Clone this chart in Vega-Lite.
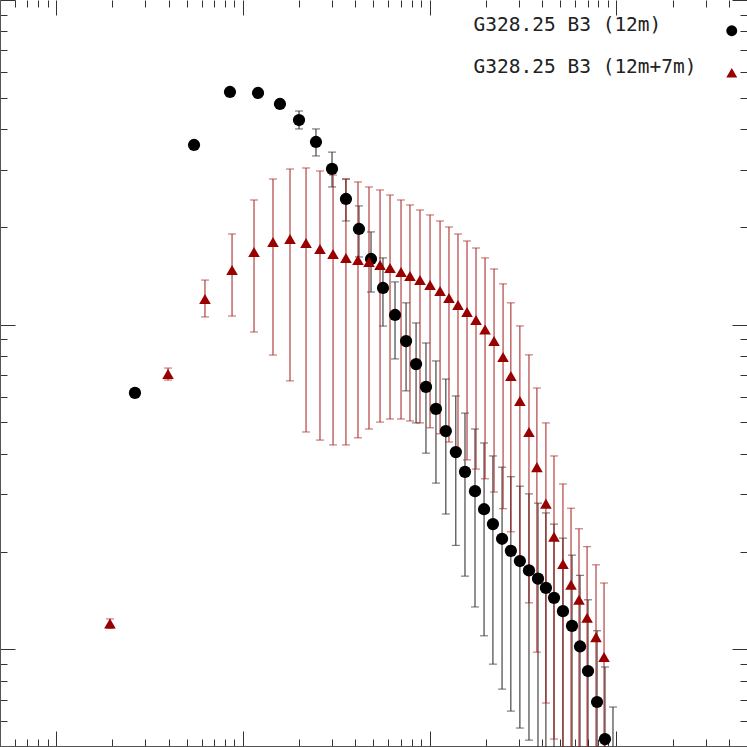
{
  "$schema": "https://vega.github.io/schema/vega-lite/v6.json",
  "width": 747,
  "height": 747,
  "padding": 0,
  "autosize": "none",
  "background": "white",
  "config": {
    "view": {"stroke": null},
    "axis": {"labels": false, "title": null, "grid": false, "tickColor": "#333", "domainColor": "#555", "tickWidth": 1}
  },
  "data": {"values": [
    {"s": "G328.25 B3 (12m)", "x": 2.64, "y": 6.16, "lo": 6.1, "hi": 6.22},
    {"s": "G328.25 B3 (12m)", "x": 5.47, "y": 35.76, "lo": 35.4, "hi": 36.1},
    {"s": "G328.25 B3 (12m)", "x": 8.52, "y": 52.08, "lo": 51.6, "hi": 52.6},
    {"s": "G328.25 B3 (12m)", "x": 12.04, "y": 51.71, "lo": 51.2, "hi": 52.2},
    {"s": "G328.25 B3 (12m)", "x": 15.78, "y": 47.83, "lo": 46.5, "hi": 49.2},
    {"s": "G328.25 B3 (12m)", "x": 19.96, "y": 42.69, "lo": 40.07, "hi": 45.5},
    {"s": "G328.25 B3 (12m)", "x": 24.6, "y": 36.53, "lo": 33.08, "hi": 40.07},
    {"s": "G328.25 B3 (12m)", "x": 29.98, "y": 30.17, "lo": 26.55, "hi": 34.0},
    {"s": "G328.25 B3 (12m)", "x": 35.6, "y": 24.38, "lo": 20.86, "hi": 28.09},
    {"s": "G328.25 B3 (12m)", "x": 41.8, "y": 19.71, "lo": 16.16, "hi": 23.21},
    {"s": "G328.25 B3 (12m)", "x": 48.5, "y": 15.93, "lo": 12.6, "hi": 19.3},
    {"s": "G328.25 B3 (12m)", "x": 56.2, "y": 12.97, "lo": 9.9, "hi": 16.05},
    {"s": "G328.25 B3 (12m)", "x": 65.2, "y": 10.71, "lo": 7.84, "hi": 13.54},
    {"s": "G328.25 B3 (12m)", "x": 74.7, "y": 8.9, "lo": 6.25, "hi": 11.67},
    {"s": "G328.25 B3 (12m)", "x": 84.5, "y": 7.56, "lo": 4.98, "hi": 10.12},
    {"s": "G328.25 B3 (12m)", "x": 95.5, "y": 6.43, "lo": 4.02, "hi": 8.78},
    {"s": "G328.25 B3 (12m)", "x": 108, "y": 5.5, "lo": 3.25, "hi": 7.73},
    {"s": "G328.25 B3 (12m)", "x": 122, "y": 4.7, "lo": 2.61, "hi": 6.8},
    {"s": "G328.25 B3 (12m)", "x": 138, "y": 4.05, "lo": 2.09, "hi": 6.03},
    {"s": "G328.25 B3 (12m)", "x": 154.5, "y": 3.52, "lo": 1.68, "hi": 5.34},
    {"s": "G328.25 B3 (12m)", "x": 174.8, "y": 3.07, "lo": 1.35, "hi": 4.77},
    {"s": "G328.25 B3 (12m)", "x": 195.4, "y": 2.7, "lo": 1.1, "hi": 4.32},
    {"s": "G328.25 B3 (12m)", "x": 218, "y": 2.43, "lo": 0.9, "hi": 3.94},
    {"s": "G328.25 B3 (12m)", "x": 244, "y": 2.19, "lo": 0.754, "hi": 3.64},
    {"s": "G328.25 B3 (12m)", "x": 272, "y": 2.01, "lo": 0.645, "hi": 3.4},
    {"s": "G328.25 B3 (12m)", "x": 304, "y": 1.87, "lo": 0.572, "hi": 3.18},
    {"s": "G328.25 B3 (12m)", "x": 340, "y": 1.75, "lo": 0.525, "hi": 3.01},
    {"s": "G328.25 B3 (12m)", "x": 380, "y": 1.65, "lo": 0.1, "hi": 2.82},
    {"s": "G328.25 B3 (12m)", "x": 419, "y": 1.545, "lo": 0.1, "hi": 2.63},
    {"s": "G328.25 B3 (12m)", "x": 463, "y": 1.44, "lo": 0.1, "hi": 2.43},
    {"s": "G328.25 B3 (12m)", "x": 517, "y": 1.31, "lo": 0.1, "hi": 2.2},
    {"s": "G328.25 B3 (12m)", "x": 578, "y": 1.18, "lo": 0.1, "hi": 1.95},
    {"s": "G328.25 B3 (12m)", "x": 638, "y": 1.02, "lo": 0.1, "hi": 1.69},
    {"s": "G328.25 B3 (12m)", "x": 704, "y": 0.857, "lo": 0.1, "hi": 1.42},
    {"s": "G328.25 B3 (12m)", "x": 787, "y": 0.688, "lo": 0.1, "hi": 1.14},
    {"s": "G328.25 B3 (12m)", "x": 868, "y": 0.529, "lo": 0.1, "hi": 0.882},
    {"s": "G328.25 B3 (12m)", "x": 958, "y": 0.4, "lo": 0.1, "hi": 0.664},
    {"s": "G328.25 B3 (12m+7m)", "x": 1.94, "y": 1.2, "lo": 1.16, "hi": 1.24},
    {"s": "G328.25 B3 (12m+7m)", "x": 3.97, "y": 7.05, "lo": 6.75, "hi": 7.35},
    {"s": "G328.25 B3 (12m+7m)", "x": 6.26, "y": 12.0, "lo": 10.56, "hi": 13.72},
    {"s": "G328.25 B3 (12m+7m)", "x": 8.74, "y": 14.73, "lo": 10.63, "hi": 19.02},
    {"s": "G328.25 B3 (12m+7m)", "x": 11.46, "y": 16.74, "lo": 9.49, "hi": 24.21},
    {"s": "G328.25 B3 (12m+7m)", "x": 14.48, "y": 17.97, "lo": 8.06, "hi": 28.09},
    {"s": "G328.25 B3 (12m+7m)", "x": 17.86, "y": 18.36, "lo": 6.71, "hi": 30.16},
    {"s": "G328.25 B3 (12m+7m)", "x": 21.76, "y": 17.84, "lo": 4.67, "hi": 30.38},
    {"s": "G328.25 B3 (12m+7m)", "x": 25.85, "y": 17.1, "lo": 4.41, "hi": 29.73},
    {"s": "G328.25 B3 (12m+7m)", "x": 30.36, "y": 16.51, "lo": 4.26, "hi": 28.9},
    {"s": "G328.25 B3 (12m+7m)", "x": 35.6, "y": 16.05, "lo": 4.26, "hi": 28.09},
    {"s": "G328.25 B3 (12m+7m)", "x": 41.3, "y": 15.82, "lo": 4.48, "hi": 27.51},
    {"s": "G328.25 B3 (12m+7m)", "x": 47.3, "y": 15.6, "lo": 4.77, "hi": 26.55},
    {"s": "G328.25 B3 (12m+7m)", "x": 54.2, "y": 15.27, "lo": 5.01, "hi": 25.99},
    {"s": "G328.25 B3 (12m+7m)", "x": 61.3, "y": 14.95, "lo": 5.12, "hi": 25.08},
    {"s": "G328.25 B3 (12m+7m)", "x": 70.2, "y": 14.53, "lo": 5.12, "hi": 24.21},
    {"s": "G328.25 B3 (12m+7m)", "x": 78.4, "y": 14.12, "lo": 5.05, "hi": 23.37},
    {"s": "G328.25 B3 (12m+7m)", "x": 88.7, "y": 13.72, "lo": 4.98, "hi": 22.55},
    {"s": "G328.25 B3 (12m+7m)", "x": 100.4, "y": 13.25, "lo": 4.81, "hi": 21.77},
    {"s": "G328.25 B3 (12m+7m)", "x": 113.6, "y": 12.7, "lo": 4.61, "hi": 20.86},
    {"s": "G328.25 B3 (12m+7m)", "x": 126.8, "y": 12.08, "lo": 4.35, "hi": 19.99},
    {"s": "G328.25 B3 (12m+7m)", "x": 141.7, "y": 11.49, "lo": 4.08, "hi": 19.02},
    {"s": "G328.25 B3 (12m+7m)", "x": 158.4, "y": 10.94, "lo": 3.83, "hi": 18.1},
    {"s": "G328.25 B3 (12m+7m)", "x": 177, "y": 10.33, "lo": 3.59, "hi": 17.22},
    {"s": "G328.25 B3 (12m+7m)", "x": 197.8, "y": 9.66, "lo": 3.35, "hi": 16.05},
    {"s": "G328.25 B3 (12m+7m)", "x": 221, "y": 8.9, "lo": 3.05, "hi": 14.84},
    {"s": "G328.25 B3 (12m+7m)", "x": 247, "y": 7.95, "lo": 2.71, "hi": 13.35},
    {"s": "G328.25 B3 (12m+7m)", "x": 272, "y": 6.95, "lo": 2.3, "hi": 11.67},
    {"s": "G328.25 B3 (12m+7m)", "x": 304, "y": 5.82, "lo": 1.86, "hi": 9.91},
    {"s": "G328.25 B3 (12m+7m)", "x": 340, "y": 4.67, "lo": 1.39, "hi": 8.07},
    {"s": "G328.25 B3 (12m+7m)", "x": 375, "y": 3.64, "lo": 0.98, "hi": 6.38},
    {"s": "G328.25 B3 (12m+7m)", "x": 419, "y": 2.81, "lo": 0.683, "hi": 4.98},
    {"s": "G328.25 B3 (12m+7m)", "x": 463, "y": 2.22, "lo": 0.529, "hi": 3.94},
    {"s": "G328.25 B3 (12m+7m)", "x": 517, "y": 1.83, "lo": 0.1, "hi": 3.23},
    {"s": "G328.25 B3 (12m+7m)", "x": 571, "y": 1.58, "lo": 0.1, "hi": 2.72},
    {"s": "G328.25 B3 (12m+7m)", "x": 630, "y": 1.42, "lo": 0.1, "hi": 2.35},
    {"s": "G328.25 B3 (12m+7m)", "x": 696, "y": 1.25, "lo": 0.1, "hi": 2.07},
    {"s": "G328.25 B3 (12m+7m)", "x": 777, "y": 1.09, "lo": 0.1, "hi": 1.82},
    {"s": "G328.25 B3 (12m+7m)", "x": 858, "y": 0.947, "lo": 0.1, "hi": 1.6}
  ]},
  "layer": [
    {
      "transform": [{"filter": "datum.s == 'G328.25 B3 (12m)'"}],
      "mark": {"type": "errorbar", "ticks": {"size": 8}, "color": "#222222", "thickness": 1, "clip": true},
      "encoding": {
        "x": {"field": "x", "type": "quantitative", "scale": {"type": "log", "domain": [0.5, 5000], "nice": false}, "axis": null},
        "y": {"field": "lo", "type": "quantitative", "scale": {"type": "log", "domain": [0.5, 100], "nice": false}, "axis": null},
        "y2": {"field": "hi"}
      }
    },
    {
      "transform": [{"filter": "datum.s == 'G328.25 B3 (12m+7m)'"}],
      "mark": {"type": "errorbar", "ticks": {"size": 8}, "color": "#a51c1c", "thickness": 1, "clip": true},
      "encoding": {
        "x": {"field": "x", "type": "quantitative", "axis": null},
        "y": {"field": "lo", "type": "quantitative", "axis": null},
        "y2": {"field": "hi"}
      }
    },
    {
      "transform": [{"filter": "datum.s == 'G328.25 B3 (12m)'"}],
      "mark": {"type": "point", "filled": true, "size": 150, "opacity": 1, "clip": true},
      "encoding": {
        "x": {"field": "x", "type": "quantitative", "axis": {"orient": "bottom", "offset": -1, "domain": true, "values": [0.5,0.6,0.7,0.8,0.9,1,2,3,4,5,6,7,8,9,10,20,30,40,50,60,70,80,90,100,200,300,400,500,600,700,800,900,1000,2000,3000,4000,5000], "tickSize": {"condition": {"test": "datum.value == 1 || datum.value == 10 || datum.value == 100 || datum.value == 1000", "value": -15}, "value": -7}}},
        "y": {"field": "y", "type": "quantitative", "axis": {"orient": "left", "domain": true, "values": [0.5,0.6,0.7,0.8,0.9,1,2,3,4,5,6,7,8,9,10,20,30,40,50,60,70,80,90,100], "tickSize": {"condition": {"test": "datum.value == 1 || datum.value == 10 || datum.value == 100", "value": -15}, "value": -7}}},
        "color": {"field": "s", "type": "nominal", "scale": {"domain": ["G328.25 B3 (12m)", "G328.25 B3 (12m+7m)"], "range": ["#000000", "#990000"]}, "legend": {"title": null, "orient": "none", "legendX": 722, "legendY": 21, "labelFont": "DejaVu Sans Mono", "labelFontSize": 19.5, "labelColor": "#222222", "labelAlign": "left", "labelOffset": -268, "labelLimit": 400, "labelBaseline": "alphabetic", "symbolSize": 120, "rowPadding": 19}},
        "shape": {"field": "s", "type": "nominal", "scale": {"domain": ["G328.25 B3 (12m)", "G328.25 B3 (12m+7m)"], "range": ["circle", "triangle-up"]}, "legend": {"title": null, "orient": "none", "legendX": 722, "legendY": 21, "labelFont": "DejaVu Sans Mono", "labelFontSize": 19.5, "labelColor": "#222222", "labelAlign": "left", "labelOffset": -268, "labelLimit": 400, "labelBaseline": "alphabetic", "symbolSize": 120, "rowPadding": 19}}
      }
    },
    {
      "transform": [{"filter": "datum.s == 'G328.25 B3 (12m+7m)'"}],
      "mark": {"type": "point", "filled": true, "size": 135, "opacity": 1, "clip": true},
      "encoding": {
        "x": {"field": "x", "type": "quantitative", "axis": {"orient": "top", "domain": false, "values": [0.5,0.6,0.7,0.8,0.9,1,2,3,4,5,6,7,8,9,10,20,30,40,50,60,70,80,90,100,200,300,400,500,600,700,800,900,1000,2000,3000,4000,5000], "tickSize": {"condition": {"test": "datum.value == 1 || datum.value == 10 || datum.value == 100 || datum.value == 1000", "value": -15}, "value": -7}}},
        "y": {"field": "y", "type": "quantitative", "axis": {"orient": "right", "domain": false, "values": [0.5,0.6,0.7,0.8,0.9,1,2,3,4,5,6,7,8,9,10,20,30,40,50,60,70,80,90,100], "tickSize": {"condition": {"test": "datum.value == 1 || datum.value == 10 || datum.value == 100", "value": -15}, "value": -7}}},
        "color": {"field": "s", "type": "nominal", "legend": {"title": null, "orient": "none", "legendX": 722, "legendY": 21, "labelFont": "DejaVu Sans Mono", "labelFontSize": 19.5, "labelColor": "#222222", "labelAlign": "left", "labelOffset": -268, "labelLimit": 400, "labelBaseline": "alphabetic", "symbolSize": 120, "rowPadding": 19}},
        "shape": {"field": "s", "type": "nominal", "legend": {"title": null, "orient": "none", "legendX": 722, "legendY": 21, "labelFont": "DejaVu Sans Mono", "labelFontSize": 19.5, "labelColor": "#222222", "labelAlign": "left", "labelOffset": -268, "labelLimit": 400, "labelBaseline": "alphabetic", "symbolSize": 120, "rowPadding": 19}}
      }
    }
  ],
  "resolve": {"axis": {"x": "independent", "y": "independent"}}
}
